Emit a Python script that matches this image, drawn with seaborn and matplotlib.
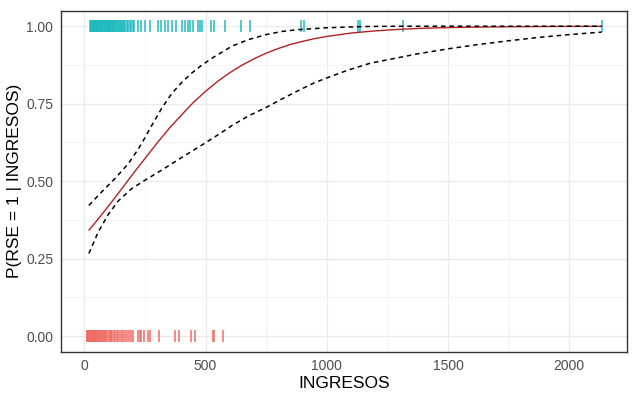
import numpy as np
import pandas as pd
import matplotlib
matplotlib.use("Agg")
import matplotlib.pyplot as plt
import seaborn as sns

# observed incomes, RSE = 1 (teal) and RSE = 0 (red)
ingresos_rse1 = [23, 26, 28, 31, 34, 36, 39, 42, 45, 47, 50, 53, 56, 58, 61, 64, 67, 70,
                 72, 75, 78, 81, 84, 87, 90, 93, 96, 99, 102, 105, 108, 111, 114, 117,
                 120, 124, 128, 131, 135, 139, 143, 147, 151, 155, 160, 165, 170, 176,
                 182, 188, 194, 200, 206, 222, 236, 250, 273, 305, 318, 335, 346, 360,
                 380, 405, 415, 426, 438, 449, 467, 476, 486, 522, 536, 582, 648, 682,
                 895, 906, 1131, 1138, 1314, 2134]
ingresos_rse0 = [10, 13, 16, 19, 22, 25, 28, 31, 34, 37, 40, 43, 46, 49, 52, 55, 58, 62,
                 66, 70, 74, 78, 82, 86, 90, 95, 100, 105, 110, 116, 122, 128, 134, 140,
                 147, 154, 161, 168, 176, 184, 192, 200, 220, 229, 236, 247, 264, 273,
                 307, 376, 392, 440, 455, 530, 537, 573]

# fitted probability curve
fit_x = [19, 50, 100, 150, 200, 250, 300, 350, 400, 450, 500, 550, 600, 650, 700, 750,
         800, 850, 900, 950, 1000, 1100, 1200, 1300, 1400, 1500, 1600, 1800, 2000, 2134]
fit_p = [0.342, 0.371, 0.420, 0.471, 0.523, 0.573, 0.623, 0.670, 0.713, 0.754, 0.790,
         0.822, 0.850, 0.874, 0.895, 0.913, 0.928, 0.941, 0.951, 0.960, 0.967, 0.978,
         0.985, 0.990, 0.9935, 0.9956, 0.997, 0.9986, 0.9994, 0.9996]

# upper and lower confidence limits
upper_x = [19, 71, 126, 181, 223, 250, 277, 319, 360, 401, 442, 484, 525, 580, 610, 678,
           750, 814, 882, 1000, 1153, 1300, 2134]
upper_p = [0.422, 0.465, 0.508, 0.556, 0.604, 0.640, 0.678, 0.735, 0.782, 0.818, 0.848,
           0.874, 0.896, 0.922, 0.936, 0.957, 0.973, 0.983, 0.989, 0.995, 0.999, 1.0, 1.0]
lower_x = [19, 58, 99, 140, 195, 250, 305, 360, 415, 500, 566, 610, 678, 750, 814, 882,
           950, 1000, 1086, 1181, 1260, 1375, 1500, 1625, 1750, 1875, 2000, 2134]
lower_p = [0.267, 0.337, 0.393, 0.436, 0.476, 0.503, 0.529, 0.556, 0.583, 0.624, 0.657,
           0.680, 0.711, 0.738, 0.765, 0.792, 0.818, 0.833, 0.858, 0.881, 0.893, 0.911,
           0.927, 0.941, 0.953, 0.964, 0.973, 0.981]

pts = pd.DataFrame({
    "INGRESOS": ingresos_rse1 + ingresos_rse0,
    "RSE": [1] * len(ingresos_rse1) + [0] * len(ingresos_rse0),
})

sns.set_style("white")
plt.rcParams["font.family"] = ["Liberation Sans", "DejaVu Sans"]

fig = plt.figure(figsize=(6.4, 3.97), dpi=100)
ax = fig.add_axes([0.0953, 0.114, 0.885, 0.859])

# grid like theme_bw
ax.set_axisbelow(True)
ax.set_xticks([0, 500, 1000, 1500, 2000])
ax.set_xticks([250, 750, 1250, 1750], minor=True)
ax.set_yticks([0, 0.25, 0.5, 0.75, 1.0])
ax.set_yticks([0.125, 0.375, 0.625, 0.875], minor=True)
ax.grid(which="major", color="#EBEBEB", linewidth=1.0)
ax.grid(which="minor", color="#F2F2F2", linewidth=0.6)

sns.scatterplot(data=pts, x="INGRESOS", y="RSE", hue="RSE",
                palette={0: "#F06A63", 1: "#1FB9BE"}, marker="|", s=80,
                linewidth=1.2, alpha=0.9, legend=False, ax=ax)

sns.lineplot(x=fit_x, y=fit_p, color="#B22222", linewidth=1.0, ax=ax)
sns.lineplot(x=upper_x, y=upper_p, color="black", linewidth=1.1, ax=ax)
ax.lines[-1].set_dashes((3, 2.5))
sns.lineplot(x=lower_x, y=lower_p, color="black", linewidth=1.1, ax=ax)
ax.lines[-1].set_dashes((3, 2.5))

ax.set_xlim(-96, 2240)
ax.set_ylim(-0.05, 1.05)
ax.set_yticklabels(["0.00", "0.25", "0.50", "0.75", "1.00"])

for s in ax.spines.values():
    s.set_color("#333333")
    s.set_linewidth(1.0)
ax.tick_params(which="major", length=3.5, width=0.8, color="#333333",
               labelsize=10, labelcolor="#4D4D4D", pad=2)
ax.tick_params(which="minor", length=0)

ax.set_xlabel("INGRESOS", fontsize=12.5, color="black", labelpad=2)
ax.set_ylabel("P(RSE = 1 | INGRESOS)", fontsize=12.5, color="black", labelpad=3)

fig.savefig("out.png", dpi=100)
